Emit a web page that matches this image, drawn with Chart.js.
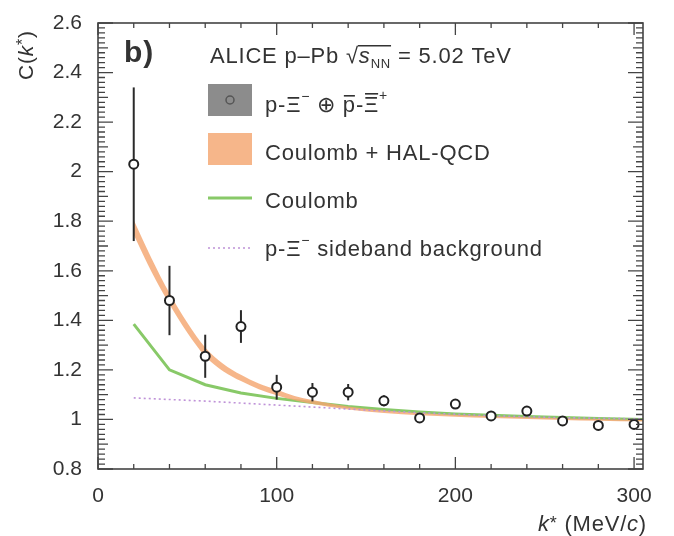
<!DOCTYPE html>
<html>
<head>
<meta charset="utf-8">
<script src="https://cdn.jsdelivr.net/npm/chart.js@4.4.1/dist/chart.umd.min.js"></script>
<style>
    html, body { margin: 0; padding: 0; background: #fff; }
</style>
</head>
<body>
<canvas id="cf-chart" width="674" height="536"></canvas>
<script>
// -------------- Data --------------
const kStar    = [20, 40, 60, 80, 100, 120, 140, 160, 180, 200, 220, 240, 260, 280, 300];
const corrVals = [2.03, 1.48, 1.255, 1.375, 1.13, 1.11, 1.11, 1.075, 1.006, 1.062, 1.014, 1.034, 0.994, 0.976, 0.98];
const corrErr  = [0.31, 0.14, 0.087, 0.066, 0.05, 0.037, 0.033, 0.022, 0.012, 0.012, 0.01, 0.01, 0.01, 0.01, 0.01];

// Coulomb + HAL-QCD band (upper / lower edge)
const bandK    = [20, 30, 40, 50, 60, 70, 80, 90, 100, 110, 120, 140, 160, 180, 200, 220, 240, 260, 280, 305];
const bandHigh = [1.805, 1.65, 1.51, 1.39, 1.29, 1.225, 1.18, 1.145, 1.12, 1.095, 1.078, 1.052, 1.036, 1.026, 1.019, 1.013, 1.009, 1.005, 1.002, 0.999];
const bandLow  = [1.745, 1.595, 1.465, 1.35, 1.255, 1.195, 1.155, 1.122, 1.098, 1.077, 1.062, 1.04, 1.026, 1.017, 1.011, 1.006, 1.002, 0.998, 0.995, 0.992];

// Coulomb only
const coulombK    = [20, 40, 60, 80, 100, 120, 140, 160, 180, 200, 240, 280, 305];
const coulombVals = [1.385, 1.2, 1.14, 1.107, 1.085, 1.068, 1.052, 1.04, 1.03, 1.022, 1.012, 1.004, 1.0];

// sideband background
const sidebandK    = [20, 60, 100, 140, 180, 220, 260, 305];
const sidebandVals = [1.087, 1.074, 1.058, 1.042, 1.027, 1.015, 1.007, 1.002];

const xTickVals = [0, 100, 200, 300];
const yTickVals = [0.8, 1, 1.2, 1.4, 1.6, 1.8, 2, 2.2, 2.4, 2.6];

const FONT = '"Liberation Sans", Arial, sans-serif';
const TEXT = '#333';
const ORANGE = 'rgba(244, 166, 112, 0.82)';
const GREEN = '#88c968';
const PURPLE = '#bf92d8';

const toPoints = (xs, ys) => xs.map((x, i) => ({ x: x, y: ys[i] }));

// draw a list of text pieces one after the other
function drawRuns(ctx, x, y, runs) {
    let cx = x;
    runs.forEach(r => {
        ctx.font = r.font;
        ctx.fillText(r.t, cx, y + (r.dy || 0));
        const w = ctx.measureText(r.t).width;
        if (r.bar) {
            ctx.fillRect(cx + 1, y - r.bar, w - 2, 1.6);
        }
        cx += w;
    });
    return cx;
}

// -------------- Error bars (drawn under the markers) --------------
const errorBars = {
    id: 'errorBars',
    beforeDatasetDraw(chart, args) {
        if (args.index !== 0) return;
        const ctx = chart.ctx;
        const xs = chart.scales.x, ys = chart.scales.y;
        ctx.save();
        ctx.strokeStyle = '#2a2a2a';
        ctx.lineWidth = 2;
        kStar.forEach((k, i) => {
            const px = xs.getPixelForValue(k);
            ctx.beginPath();
            ctx.moveTo(px, ys.getPixelForValue(corrVals[i] - corrErr[i]));
            ctx.lineTo(px, ys.getPixelForValue(corrVals[i] + corrErr[i]));
            ctx.stroke();
        });
        ctx.restore();
    }
};

// -------------- Frame, ROOT style ticks, labels and legend --------------
const decorations = {
    id: 'decorations',
    afterDraw(chart) {
        const ctx = chart.ctx;
        const a = chart.chartArea;
        const xs = chart.scales.x, ys = chart.scales.y;
        ctx.save();
        ctx.strokeStyle = '#444';
        ctx.lineWidth = 1.6;
        ctx.strokeRect(a.left, a.top, a.right - a.left, a.bottom - a.top);

        ctx.lineWidth = 1.3;
        ctx.beginPath();
        // x ticks every 20, major every 100
        for (let k = 0; k <= 300; k += 20) {
            const px = xs.getPixelForValue(k);
            const len = k % 100 === 0 ? 12 : 5;
            ctx.moveTo(px, a.bottom); ctx.lineTo(px, a.bottom - len);
            ctx.moveTo(px, a.top); ctx.lineTo(px, a.top + len);
        }
        // y ticks every 0.02, major every 0.2
        for (let j = 0; j <= 90; j++) {
            const py = ys.getPixelForValue(0.8 + j * 0.02);
            const len = j % 10 === 0 ? 15 : (j % 5 === 0 ? 10 : 7);
            ctx.moveTo(a.left, py); ctx.lineTo(a.left + len, py);
            ctx.moveTo(a.right, py); ctx.lineTo(a.right - len, py);
        }
        ctx.stroke();

        ctx.fillStyle = TEXT;
        ctx.textBaseline = 'alphabetic';
        ctx.letterSpacing = '0.8px';

        // panel label
        ctx.font = 'bold 30px ' + FONT;
        ctx.fillText('b)', 124, 62);

        // header
        let x = drawRuns(ctx, 210, 63, [
            { t: 'ALICE p\u2013Pb ', font: '22px ' + FONT }
        ]);
        ctx.font = '22px ' + FONT;
        ctx.fillText('\u221A', x, 63);
        const rw = ctx.measureText('\u221A').width;
        const sx = x + rw;
        x = drawRuns(ctx, sx, 63, [
            { t: 's', font: 'italic 22px ' + FONT },
            { t: 'NN', font: '13px ' + FONT, dy: 5 }
        ]);
        ctx.fillRect(sx - 1, 45, x - sx + 1, 1.5);
        drawRuns(ctx, x, 63, [{ t: ' = 5.02 TeV', font: '22px ' + FONT }]);

        // legend symbols
        ctx.fillStyle = '#8c8c8c';
        ctx.fillRect(208, 84, 44, 32);
        ctx.strokeStyle = '#555';
        ctx.lineWidth = 1.5;
        ctx.beginPath();
        ctx.arc(230, 100, 4, 0, Math.PI * 2);
        ctx.stroke();

        ctx.fillStyle = ORANGE;
        ctx.fillRect(208, 133, 44, 32);

        ctx.strokeStyle = GREEN;
        ctx.lineWidth = 3;
        ctx.beginPath();
        ctx.moveTo(208, 198); ctx.lineTo(252, 198);
        ctx.stroke();

        ctx.strokeStyle = PURPLE;
        ctx.lineWidth = 1.6;
        ctx.setLineDash([2, 3]);
        ctx.beginPath();
        ctx.moveTo(208, 248); ctx.lineTo(252, 248);
        ctx.stroke();
        ctx.setLineDash([]);

        // legend texts
        ctx.fillStyle = TEXT;
        const f = '22px ' + FONT;
        const sup = '14px ' + FONT;
        drawRuns(ctx, 265, 112, [
            { t: 'p-\u039E', font: f },
            { t: '\u2212', font: sup, dy: -11 },
            { t: ' \u2295 ', font: f },
            { t: 'p', font: f, bar: 17 },
            { t: '-', font: f },
            { t: '\u039E', font: f, bar: 19 },
            { t: '+', font: sup, dy: -12 }
        ]);
        drawRuns(ctx, 265, 160, [{ t: 'Coulomb + HAL-QCD', font: f }]);
        drawRuns(ctx, 265, 208, [{ t: 'Coulomb', font: f }]);
        drawRuns(ctx, 265, 256, [
            { t: 'p-\u039E', font: f },
            { t: '\u2212', font: sup, dy: -11 },
            { t: ' sideband background', font: f }
        ]);

        // x axis title, right aligned to the frame
        const xt = [
            { t: 'k', font: 'italic 22px ' + FONT },
            { t: '*', font: '18px ' + FONT, dy: -2 },
            { t: ' (MeV/', font: '22px ' + FONT },
            { t: 'c', font: 'italic 22px ' + FONT },
            { t: ')', font: '22px ' + FONT }
        ];
        let tw = 0;
        xt.forEach(r => { ctx.font = r.font; tw += ctx.measureText(r.t).width; });
        drawRuns(ctx, 647 - tw, 531, xt);

        // y axis title, rotated
        ctx.translate(33, 80);
        ctx.rotate(-Math.PI / 2);
        drawRuns(ctx, 0, 0, [
            { t: 'C(', font: '21px ' + FONT },
            { t: 'k', font: 'italic 21px ' + FONT },
            { t: '*', font: '16px ' + FONT, dy: -5 },
            { t: ')', font: '21px ' + FONT }
        ]);
        ctx.restore();
    }
};

// -------------- Chart --------------
const cfCanvas = document.getElementById('cf-chart');

const cfData = {
    datasets: [{
        label: 'p-Xi data',
        data: toPoints(kStar, corrVals),
        showLine: false,
        pointRadius: 4.5,
        pointBackgroundColor: '#fff',
        pointBorderColor: '#222',
        pointBorderWidth: 2,
        order: 0
    }, {
        label: 'sideband background',
        data: toPoints(sidebandK, sidebandVals),
        borderColor: PURPLE,
        borderWidth: 1.6,
        borderDash: [2, 3],
        pointRadius: 0,
        order: 1
    }, {
        label: 'Coulomb + HAL-QCD high',
        data: toPoints(bandK, bandHigh),
        borderWidth: 0,
        backgroundColor: ORANGE,
        fill: '+1',
        pointRadius: 0,
        cubicInterpolationMode: 'monotone',
        order: 2
    }, {
        label: 'Coulomb + HAL-QCD low',
        data: toPoints(bandK, bandLow),
        borderWidth: 0,
        pointRadius: 0,
        cubicInterpolationMode: 'monotone',
        order: 3
    }, {
        label: 'Coulomb',
        data: toPoints(coulombK, coulombVals),
        borderColor: GREEN,
        borderWidth: 3,
        pointRadius: 0,
        order: 4
    }]
};

const cfOptions = {
    responsive: false,
    animation: false,
    devicePixelRatio: 1,
    layout: { padding: { top: 23, right: 31, left: 0, bottom: 0 } },
    plugins: {
        legend: { display: false },
        tooltip: { enabled: false }
    },
    scales: {
        x: {
            type: 'linear',
            min: 0,
            max: 305,
            grid: { display: false },
            border: { display: false },
            afterBuildTicks: s => { s.ticks = xTickVals.map(v => ({ value: v })); },
            afterFit: s => { s.height = 67; },
            ticks: {
                font: { family: FONT, size: 21 },
                color: TEXT,
                padding: 7,
                maxRotation: 0,
                autoSkip: false
            }
        },
        y: {
            type: 'linear',
            min: 0.8,
            max: 2.6,
            grid: { display: false },
            border: { display: false },
            afterBuildTicks: s => { s.ticks = yTickVals.map(v => ({ value: v })); },
            afterFit: s => { s.width = 98; },
            ticks: {
                font: { family: FONT, size: 21 },
                color: TEXT,
                padding: 8,
                autoSkip: false,
                callback: v => String(+v.toFixed(1))
            }
        }
    }
};

const cfChart = new Chart(cfCanvas, {
    type: 'line',
    data: cfData,
    options: cfOptions,
    plugins: [errorBars, decorations]
});
</script>
</body>
</html>
